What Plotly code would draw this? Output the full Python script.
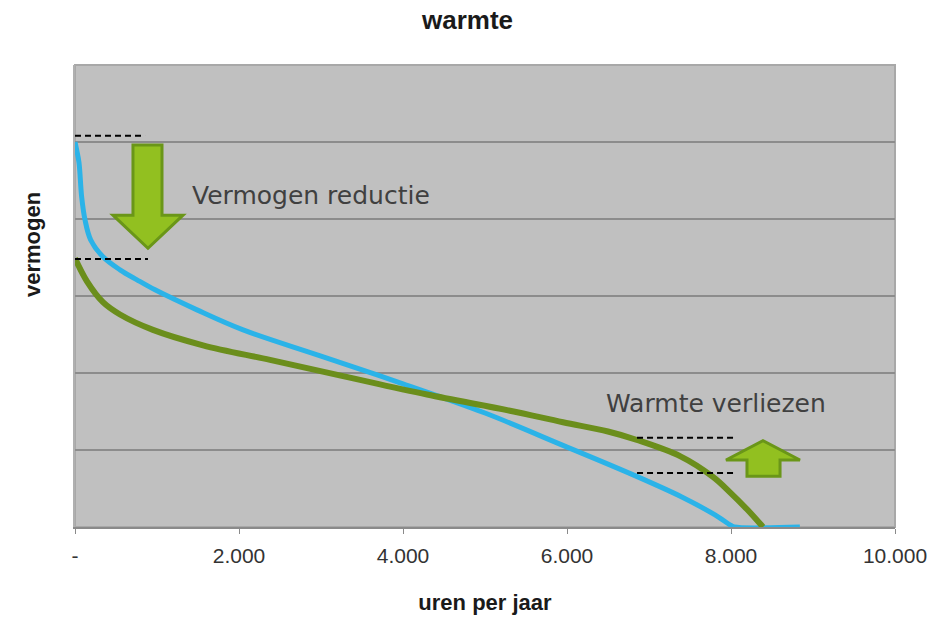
import plotly.graph_objects as go

# ---- data ----
x_ticks = [0, 2000, 4000, 6000, 8000, 10000]
x_ticktext = ["-", "2.000", "4.000", "6.000", "8.000", "10.000"]

blue_hours = [0, 20, 49, 81, 122, 191, 341, 549, 756, 976, 1488, 2050, 3000, 4000,
              5000, 5951, 6800, 7400, 7800, 8000, 8040, 8840]
blue_vals = [5.0, 4.9, 4.73, 4.29, 3.99, 3.73, 3.51, 3.34, 3.21, 3.08, 2.82, 2.56, 2.22, 1.86,
             1.48, 1.06, 0.68, 0.39, 0.16, 0.02, 0.0, 0.0]

green_hours = [0, 146, 341, 549, 951, 1561, 2378, 3268, 4293, 5305, 5951, 6500, 6854,
               7378, 7780, 7988, 8195, 8390]
green_vals = [3.49, 3.19, 2.92, 2.76, 2.56, 2.36, 2.17, 1.96, 1.72, 1.51, 1.36, 1.24, 1.13,
              0.92, 0.65, 0.45, 0.23, 0.0]

# reference dashed levels: (x0, x1, y)
dash_levels = [(0, 854, 5.08), (0, 890, 3.48), (6854, 8061, 1.16), (6854, 8061, 0.70)]

labels = [("Vermogen reductie", 1400, 4.3), ("Warmte verliezen", 6450, 1.6)]

fig = go.Figure()
fig.add_trace(go.Scatter(x=blue_hours, y=blue_vals, mode="lines",
                         line=dict(color="#2bb3e8", width=5, shape="spline", smoothing=1.0),
                         hoverinfo="skip"))
fig.add_trace(go.Scatter(x=green_hours, y=green_vals, mode="lines",
                         line=dict(color="#6b8e1c", width=6, shape="spline", smoothing=1.0),
                         hoverinfo="skip"))

for x0, x1, y in dash_levels:
    fig.add_shape(type="line", xref="x", yref="y", x0=x0, x1=x1, y0=y, y1=y,
                  line=dict(color="black", width=2, dash="6px,4px"))

# arrows (data coordinates)
down = "M 707 4.96 L 1061 4.96 L 1061 4.05 L 1317 4.05 L 890 3.62 L 463 4.05 L 707 4.05 Z"
up = "M 8195 0.66 L 8598 0.66 L 8598 0.87 L 8841 0.87 L 8390 1.12 L 7939 0.87 L 8195 0.87 Z"
for p in (down, up):
    fig.add_shape(type="path", xref="x", yref="y", path=p,
                  fillcolor="#92c020", line=dict(color="#6a9618", width=3))

for t, x, y in labels:
    fig.add_annotation(x=x, y=y, xref="x", yref="y", text=t, showarrow=False,
                       xanchor="left", yanchor="middle",
                       font=dict(family="DejaVu Sans", size=25, color="#404040"))

# y-axis title (placed like the original, above the plot centre)
fig.add_annotation(text="<b>vermogen</b>", xref="paper", yref="paper",
                   x=-43 / 820, y=(527 - 245) / 462, textangle=-90, showarrow=False,
                   xanchor="center", yanchor="middle",
                   font=dict(family="Liberation Sans, Arial", size=22, color="#1a1a1a"))

# plot border
fig.add_shape(type="rect", xref="paper", yref="paper", x0=0, x1=1, y0=0, y1=1,
              line=dict(color="#a8a8a8", width=2), layer="below")

fig.update_layout(
    width=935, height=619,
    margin=dict(l=75, r=40, t=65, b=92, autoexpand=False),
    paper_bgcolor="white", plot_bgcolor="#c0c0c0",
    showlegend=False,
    title=dict(text="<b>warmte</b>", x=0.5, xref="container", xanchor="center",
               y=1 - 20 / 619, yanchor="middle",
               font=dict(family="Liberation Sans, Arial", size=26, color="#1a1a1a")),
    font=dict(family="Liberation Sans, Arial"),
)
fig.update_xaxes(range=[0, 10000], tickvals=x_ticks, ticktext=x_ticktext, automargin=False,
                 showgrid=False, zeroline=False, showline=True, linecolor="#8a8a8a", linewidth=2,
                 ticks="outside", ticklen=5, tickcolor="#8a8a8a", ticklabelstandoff=4,
                 tickfont=dict(size=21, color="#333333"),
                 title=dict(text="<b>uren per jaar</b>", font=dict(size=22, color="#1a1a1a"),
                            standoff=28))
fig.update_yaxes(range=[0, 6], dtick=1, showticklabels=False, showgrid=True, automargin=False,
                 gridcolor="#8c8c8c", gridwidth=2, zeroline=False,
                 showline=True, linecolor="#b0b0b0", linewidth=2)

fig.write_html("out.html")
